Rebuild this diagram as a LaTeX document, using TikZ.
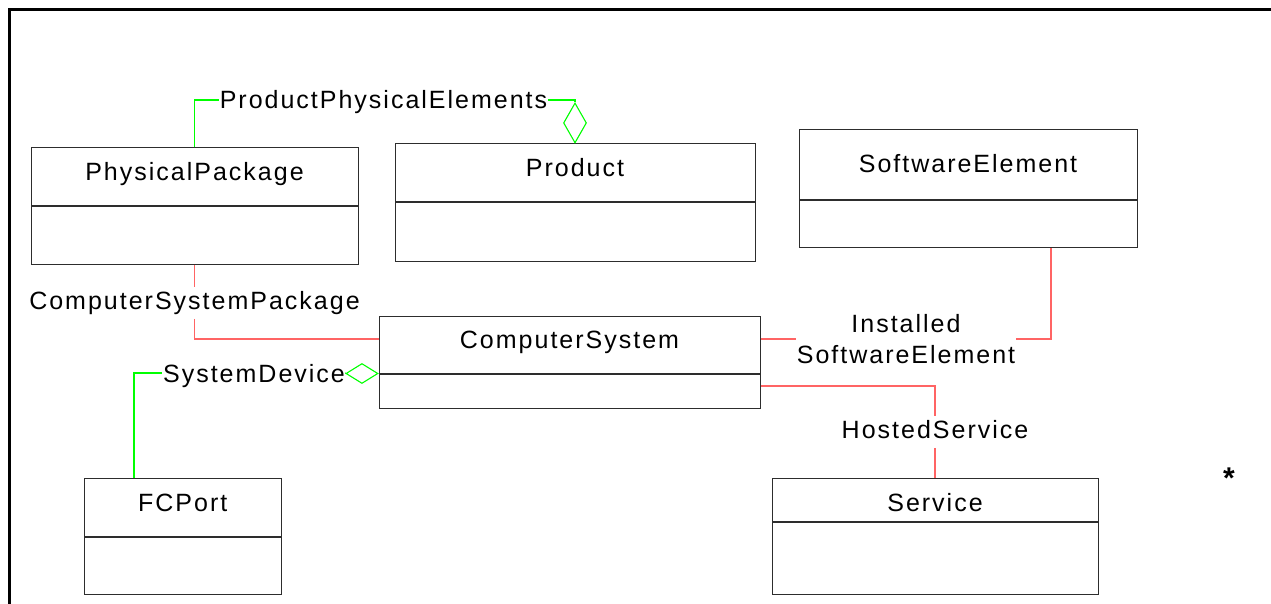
\documentclass[tikz,border=0pt]{standalone}
\usepackage{fontspec}
\setmainfont{Liberation Sans}[LetterSpace=8]
\usepackage{tikz}
\usetikzlibrary{positioning}
\usetikzlibrary{shapes.geometric}
\definecolor{lred}{RGB}{255, 100, 100}
\definecolor{lgreen}{RGB}{0, 255, 0}
\definecolor{boxline}{RGB}{45, 45, 45}
\tikzset{
  cls/.style={draw=boxline, line width=1pt, inner sep=0pt, text height=18pt, text depth=10pt},
  role/.style={inner xsep=1pt, inner ysep=0pt, text height=18pt, text depth=0pt},
  rolev/.style={role, text depth=5.5pt, inner ysep=4pt},
  linkr/.style={lred, line width=1.3pt},
  linkg/.style={lgreen, line width=1.4pt},
  agg/.style={diamond, draw=lgreen, line width=1.1pt, inner sep=0pt}
}

\begin{document}
\begin{tikzpicture}[x=1pt, y=-1pt, font=\fontsize{25}{31}\selectfont]
    \useasboundingbox (0, 0) rectangle (1271, 604);
    \draw [line width=2.8pt] (9.5, 604) -- (9.5, 9.5) -- (1271, 9.5);

    \node [cls, minimum width=327pt, minimum height=58pt] (pp) at (194.5, 177) {PhysicalPackage};
    \node [cls, minimum width=327pt, minimum height=57pt, below=0pt of pp] (ppb) {};
    \node [cls, minimum width=360pt, minimum height=58pt] (pr) at (575, 173) {Product};
    \node [cls, minimum width=360pt, minimum height=58pt, below=0pt of pr] (prb) {};
    \node [cls, minimum width=338pt, minimum height=70pt, text depth=2.6pt] (se) at (968, 165) {SoftwareElement};
    \node [cls, minimum width=338pt, minimum height=46pt, below=0pt of se] (seb) {};
    \node [cls, minimum width=381pt, minimum height=57pt] (cs) at (569.5, 344.5) {ComputerSystem};
    \node [cls, minimum width=381pt, minimum height=34pt, below=0pt of cs] (csb) {};
    \node [cls, minimum width=196.5pt, minimum height=58pt] (fc) at (182.75, 507) {FCPort};
    \node [cls, minimum width=196.5pt, minimum height=57pt, below=0pt of fc] (fcb) {};
    \node [cls, minimum width=326pt, minimum height=43pt, text height=28pt, text depth=5pt] (sv) at (935, 499.5) {Service};
    \node [cls, minimum width=326pt, minimum height=72pt, below=0pt of sv] (svb) {};

    \node [agg, minimum width=23pt, minimum height=40pt, anchor=south] (agg1) at (pr.north) {};
    \node [agg, minimum width=32pt, minimum height=20pt, anchor=east] (agg2) at (cs.south west) {};

    \node [role] (ppe) at (383.5, 100) {ProductPhysicalElements};
    \node [role] (sd) at (254, 373) {SystemDevice};
    \node [rolev] (csp) at (194.5, 303) {ComputerSystemPackage};
    \node [rolev] (hs) at (935, 432) {HostedService};
    \node [align=center, inner sep=1pt] (ise) at (906, 339) {Installed\\SoftwareElement};
    \node [font=\fontsize{30}{36}\bfseries] (star) at (1229, 478) {*};

    \draw [linkg] (pp.north) |- (ppe.west);
    \draw [linkg] (ppe.east) -| (agg1.north);
    \draw [linkg] ([xshift=-48.75pt]fc.north) |- (sd.west);
    \draw [linkg] (sd.east) -- (agg2.west);

    \draw [linkr] (ppb.south) -- (csp.north);
    \draw [linkr] (csp.south) |- ([yshift=5.5pt]cs.west);
    \draw [linkr] ([yshift=5.5pt]cs.east) -- (ise.west);
    \draw [linkr] (ise.east) -| ([xshift=83pt]seb.south);
    \draw [linkr] ([yshift=5pt]csb.east) -| (hs.north);
    \draw [linkr] (hs.south) -- (sv.north);
\end{tikzpicture}
\end{document}
